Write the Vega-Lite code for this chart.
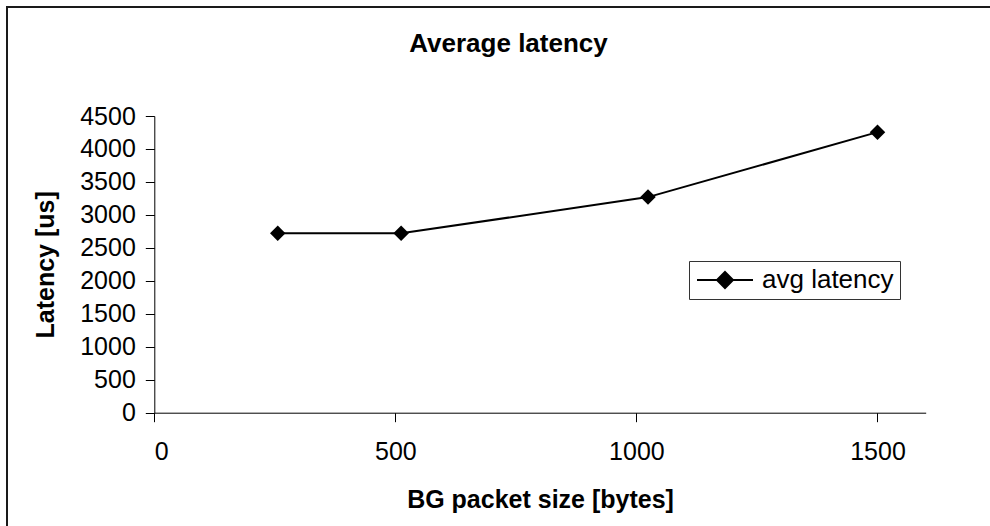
{
  "$schema": "https://vega.github.io/schema/vega-lite/v6.json",
  "autosize": {"type": "none"},
  "width": 1003,
  "height": 539,
  "padding": {"left": 7, "top": 7, "right": -20, "bottom": -20},
  "background": "white",
  "config": {
    "font": "Liberation Sans",
    "view": {"stroke": "#1a1a1a", "strokeWidth": 2},
    "axis": {
      "grid": false,
      "format": "d",
      "domainColor": "black",
      "domainWidth": 1,
      "tickColor": "black",
      "tickWidth": 1,
      "tickSize": 9,
      "labelColor": "black",
      "labelFont": "Liberation Sans",
      "labelFontSize": 25,
      "titleColor": "black",
      "titleFont": "Liberation Sans",
      "titleFontSize": 25,
      "titleFontWeight": "bold"
    }
  },
  "title": {
    "text": "Average latency",
    "font": "Liberation Sans",
    "fontSize": 26,
    "fontWeight": "bold",
    "color": "black",
    "anchor": "middle",
    "frame": "group",
    "baseline": "top",
    "offset": -50
  },
  "data": {
    "values": [
      {"size": 256, "latency": 2721, "series": "avg latency"},
      {"size": 512, "latency": 2720, "series": "avg latency"},
      {"size": 1024, "latency": 3270, "series": "avg latency"},
      {"size": 1500, "latency": 4255, "series": "avg latency"}
    ]
  },
  "encoding": {
    "x": {
      "field": "size",
      "type": "quantitative",
      "title": "BG packet size [bytes]",
      "scale": {"domain": [0, 1600], "range": [147.3, 918.7], "nice": false, "zero": false},
      "axis": {
        "values": [0, 500, 1000, 1500],
        "format": "d",
        "offset": -133.3,
        "labelPadding": 18,
        "titlePadding": 23
      }
    },
    "y": {
      "field": "latency",
      "type": "quantitative",
      "title": "Latency [us]",
      "scale": {"domain": [0, 4500], "range": [405.7, 109], "nice": false, "zero": false},
      "axis": {
        "values": [0, 500, 1000, 1500, 2000, 2500, 3000, 3500, 4000, 4500],
        "format": "d",
        "offset": -147.3,
        "labelPadding": 10,
        "titlePadding": 21
      }
    },
    "color": {
      "field": "series",
      "type": "nominal",
      "scale": {"range": ["black"]},
      "legend": {
        "title": null,
        "orient": "none",
        "legendX": 682,
        "legendY": 254,
        "padding": 6,
        "strokeColor": "#333333",
        "fillColor": "white",
        "symbolType": "M-2.8,0H2.8M0,-0.8L0.8,0L0,0.8L-0.8,0Z",
        "symbolSize": 400,
        "symbolFillColor": "black",
        "symbolStrokeColor": "black",
        "symbolStrokeWidth": 2,
        "symbolOffset": 17,
        "labelOffset": 24,
        "labelFont": "Liberation Sans",
        "labelFontSize": 26,
        "labelColor": "black"
      }
    }
  },
  "layer": [
    {"mark": {"type": "line", "strokeWidth": 2}},
    {"mark": {"type": "point", "shape": "diamond", "filled": true, "size": 240, "opacity": 1}}
  ]
}
